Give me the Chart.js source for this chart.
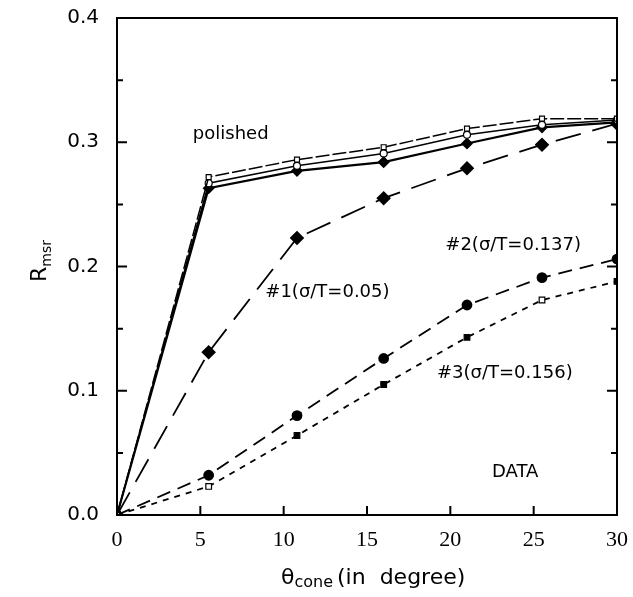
<!DOCTYPE html>
<html>
<head>
<meta charset="utf-8">
<script src="https://cdn.jsdelivr.net/npm/chart.js@4"></script>
<style>
    body { margin: 0; background: #fff; }
    #caja { width: 633px; height: 597px; }
</style>
</head>
<body>
<div id="caja"><canvas id="grafico"></canvas></div>
<script>
// ------------------------------ Datos ------------------------------
const angulos = [0, 5.5, 10.8, 16, 21, 25.5, 30];

const pulidoA = [0, 0.272, 0.286, 0.296, 0.311, 0.319, 0.319];
const pulidoB = [0, 0.267, 0.281, 0.291, 0.306, 0.314, 0.318];
const pulidoC = [0, 0.263, 0.277, 0.284, 0.299, 0.312, 0.316];
const serie1 = [0, 0.131, 0.223, 0.255, 0.279, 0.298, 0.315];
const serie2 = [0, 0.032, 0.080, 0.126, 0.169, 0.191, 0.206];
const serie3 = [0, 0.023, 0.064, 0.105, 0.143, 0.173, 0.188];

const ticksY = [0, 0.1, 0.2, 0.3, 0.4];
const ticksX = [0, 5, 10, 15, 20, 25, 30];

const puntos = (ys) => ys.map((y, i) => ({ x: angulos[i], y: y }));

// Rótulos dentro del gráfico (en coordenadas de los datos)
const rotulos = [
    { texto: "polished", x: 4.55, y: 0.306 },
    { texto: "#1(σ/T=0.05)", x: 8.9, y: 0.179 },
    { texto: "#2(σ/T=0.137)", x: 19.7, y: 0.217 },
    { texto: "#3(σ/T=0.156)", x: 19.2, y: 0.114 },
    { texto: "DATA", x: 22.5, y: 0.034 }
];

// ------------------------------ Plugin: ticks hacia adentro, títulos ------------------------------
const marcasInternas = {
    id: "marcasInternas",
    afterDraw(chart) {
        const ctx = chart.ctx;
        const x = chart.scales.x;
        const y = chart.scales.y;
        const area = chart.chartArea;
        ctx.save();
        ctx.strokeStyle = "#000";
        ctx.lineWidth = 2;
        ctx.beginPath();
        ctx.rect(area.left, area.top, area.right - area.left, area.bottom - area.top);
        ctx.stroke();

        // ticks del eje y (mayores y menores), izquierda y derecha
        for (let i = 1; i < 8; i++) {
            const py = y.getPixelForValue(i * 0.05);
            const largo = i % 2 === 0 ? 10 : 6;
            ctx.beginPath();
            ctx.moveTo(area.left, py);
            ctx.lineTo(area.left + largo, py);
            ctx.moveTo(area.right, py);
            ctx.lineTo(area.right - largo, py);
            ctx.stroke();
        }
        // ticks del eje x
        ticksX.slice(1, -1).forEach(v => {
            const px = x.getPixelForValue(v);
            ctx.beginPath();
            ctx.moveTo(px, area.bottom);
            ctx.lineTo(px, area.bottom - 9);
            ctx.stroke();
        });

        // rótulos
        ctx.fillStyle = "#000";
        ctx.font = "18px 'DejaVu Sans'";
        ctx.textBaseline = "middle";
        ctx.textAlign = "left";
        rotulos.forEach(r => {
            ctx.fillText(r.texto, x.getPixelForValue(r.x), y.getPixelForValue(r.y));
        });

        // título eje x con subíndice
        ctx.font = "22px 'DejaVu Sans'";
        const base = 578;
        let cx = 281;
        ctx.fillText("θ", cx, base);
        cx += ctx.measureText("θ").width;
        ctx.font = "16px 'DejaVu Sans'";
        ctx.fillText("cone", cx, base + 5);
        cx += ctx.measureText("cone").width + 4;
        ctx.font = "22px 'DejaVu Sans'";
        ctx.fillText("(in  degree)", cx, base);

        // título eje y con subíndice, rotado
        ctx.translate(40, 282);
        ctx.rotate(-Math.PI / 2);
        ctx.font = "22px 'DejaVu Sans'";
        ctx.fillText("R", 0, 0);
        const w = ctx.measureText("R").width;
        ctx.font = "14px 'DejaVu Sans'";
        ctx.fillText("msr", w, 7);
        ctx.restore();
    }
};

// ------------------------------ Gráfico ------------------------------
const ctx = document.getElementById("grafico").getContext("2d");

new Chart(ctx, {
    type: "line",
    data: {
        datasets: [
            {
                data: puntos(pulidoA),
                borderColor: "#000", borderWidth: 1.5, borderDash: [14, 3],
                pointStyle: "rect", pointRadius: 3.5, pointBackgroundColor: "#fff",
                pointBorderColor: "#000", pointBorderWidth: 1.2
            },
            {
                data: puntos(pulidoB),
                borderColor: "#000", borderWidth: 1.5,
                pointStyle: "circle", pointRadius: 3.5, pointBackgroundColor: "#fff",
                pointBorderColor: "#000", pointBorderWidth: 1.2
            },
            {
                data: puntos(pulidoC),
                borderColor: "#000", borderWidth: 2.2,
                pointStyle: "rectRot", pointRadius: 4.5, pointBackgroundColor: "#000",
                pointBorderColor: "#000"
            },
            {
                data: puntos(serie1),
                borderColor: "#000", borderWidth: 1.8, borderDash: [26, 12],
                pointStyle: "rectRot", pointRadius: 6, pointBackgroundColor: "#000",
                pointBorderColor: "#000"
            },
            {
                data: puntos(serie2),
                borderColor: "#000", borderWidth: 1.8, borderDash: [14, 8],
                pointStyle: "circle", pointRadius: 4.5, pointBackgroundColor: "#000",
                pointBorderColor: "#000"
            },
            {
                data: puntos(serie3),
                borderColor: "#000", borderWidth: 1.8, borderDash: [6, 6],
                pointStyle: "rect", pointRadius: 4,
                pointBackgroundColor: ["#000", "#fff", "#000", "#000", "#000", "#fff", "#000"],
                pointBorderColor: "#000", pointBorderWidth: 1.2
            }
        ]
    },
    options: {
        responsive: true,
        maintainAspectRatio: false,
        animation: false,
        layout: { padding: { top: 18, right: 16, left: 0, bottom: 0 } },
        plugins: {
            legend: { display: false },
            tooltip: { enabled: false }
        },
        scales: {
            x: {
                type: "linear",
                min: 0, max: 30,
                afterFit: (s) => { s.height = 82; s.paddingLeft = 0; s.paddingRight = 0; },
                afterBuildTicks: (s) => { s.ticks = ticksX.map(v => ({ value: v })); },
                grid: { display: false, drawTicks: false },
                border: { display: false },
                ticks: {
                    color: "#000",
                    padding: 12,
                    font: { family: "'Liberation Serif'", size: 22 }
                }
            },
            y: {
                min: 0, max: 0.4,
                afterFit: (s) => { s.width = 117; s.paddingTop = 0; s.paddingBottom = 0; },
                afterBuildTicks: (s) => { s.ticks = ticksY.map(v => ({ value: v })); },
                grid: { display: false, drawTicks: false },
                border: { display: false },
                ticks: {
                    color: "#000",
                    padding: 18,
                    font: { family: "'DejaVu Sans'", size: 20 },
                    callback: (v) => Number(v).toFixed(1)
                }
            }
        }
    },
    plugins: [marcasInternas]
});
</script>
</body>
</html>
